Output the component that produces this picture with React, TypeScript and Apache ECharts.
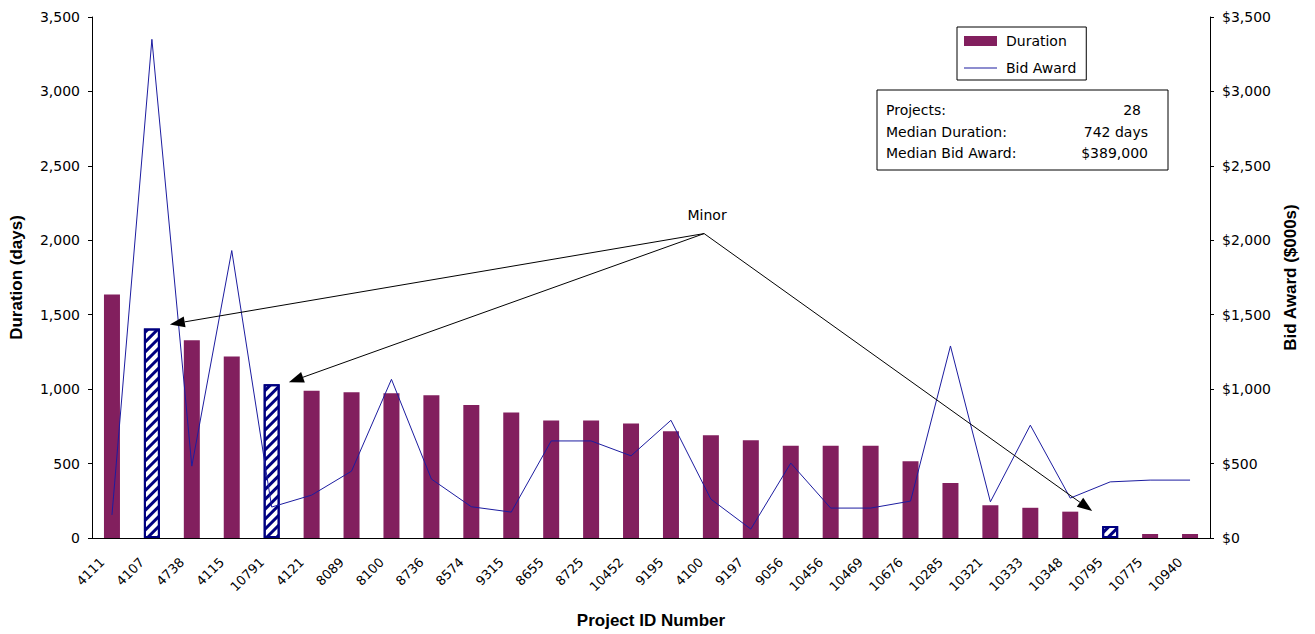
import React, { useEffect, useRef } from "react";
import * as echarts from "echarts";

const categories = ["4111","4107","4738","4115","10791","4121","8089","8100","8736","8574","9315","8655","8725","10452","9195","4100","9197","9056","10456","10469","10676","10285","10321","10333","10348","10795","10775","10940"];
const durationDays = [1636,1408,1328,1220,1033,989,979,972,959,894,843,789,789,769,717,691,657,619,619,619,515,370,220,203,177,80,27,27];
const bidAwardK = [155,3350,483,1931,208,288,449,1066,396,210,174,652,652,552,791,261,60,503,201,201,248,1290,243,758,268,377,389,389];
const minorProjects = ["4107","10791","10795"];
const statLabels = ["Projects:", "Median Duration:", "Median Bid Award:"];
const statValues = ["28", "742 days", "$389,000"];
const annotationText = "Minor";
// annotation origin (category position, duration value) and arrow targets
const annotationOrigin = [14.83, 2045];
const arrowTargets = [[1.45, 1435], [4.43, 1046], [24.55, 181]];

const FONT = "'DejaVu Sans', sans-serif";
const BOLD_FONT = "'Liberation Sans', Arial, sans-serif";
const BAR_COLOR = "#821F5E";
const LINE_COLOR = "#1C1CA0";
const HATCH_COLOR = "#000080";

export default function App() {
  const ref = useRef<HTMLDivElement>(null);
  useEffect(() => {
    document.body.style.margin = "0";
    const chart = echarts.init(ref.current!, null, { renderer: "svg" });
    const barData = durationDays.map((v, i) =>
      minorProjects.includes(categories[i])
        ? {
            value: v,
            itemStyle: {
              color: "#ffffff",
              borderColor: HATCH_COLOR,
              borderWidth: 2,
              decal: {
                symbol: "rect",
                symbolSize: 1,
                color: HATCH_COLOR,
                dashArrayX: [1, 0],
                dashArrayY: [2.5, 3.5],
                rotation: -Math.PI / 4,
              },
            },
          }
        : v
    );
    const nameStyle = { fontSize: 17, fontWeight: "bold", color: "#000", fontFamily: BOLD_FONT };
    chart.setOption({
      animation: false,
      textStyle: { fontFamily: FONT },
      grid: { left: 92, right: 105, top: 17, bottom: 95, containLabel: false },
      legend: {
        left: 957,
        top: 27,
        orient: "vertical",
        borderColor: "#000",
        borderWidth: 1,
        padding: [7, 10, 5, 7],
        itemGap: 13,
        itemWidth: 33,
        itemHeight: 10,
        textStyle: { fontSize: 14, color: "#000", fontFamily: FONT, padding: [0, 0, 0, 4] },
        data: [
          { name: "Duration", icon: "rect" },
          { name: "Bid Award", icon: "path://M0,0L33,0L33,1.2L0,1.2Z" },
        ],
      },
      xAxis: {
        type: "category",
        data: categories,
        axisLine: { lineStyle: { color: "#000" } },
        axisTick: { lineStyle: { color: "#000" }, length: 5 },
        axisLabel: {
          rotate: 45,
          interval: 0,
          fontSize: 13,
          color: "#000",
          fontFamily: FONT,
          margin: 12,
          padding: [0, 14, 0, 0],
        },
        name: "Project ID Number",
        nameLocation: "middle",
        nameGap: 74,
        nameTextStyle: nameStyle,
      },
      yAxis: [
        {
          type: "value",
          min: 0,
          max: 3500,
          interval: 500,
          splitLine: { show: false },
          axisLine: { show: true, lineStyle: { color: "#000" } },
          axisTick: { show: true, length: 4, lineStyle: { color: "#000" } },
          axisLabel: {
            fontSize: 14,
            color: "#000",
            fontFamily: FONT,
            margin: 12,
            formatter: (v: number) => v.toLocaleString("en-US"),
          },
          name: "Duration (days)",
          nameLocation: "middle",
          nameRotate: 90,
          nameGap: 67,
          nameTextStyle: nameStyle,
        },
        {
          type: "value",
          min: 0,
          max: 3500,
          interval: 500,
          position: "right",
          splitLine: { show: false },
          axisLine: { show: true, lineStyle: { color: "#000" } },
          axisTick: { show: true, length: 4, lineStyle: { color: "#000" } },
          axisLabel: {
            fontSize: 14,
            color: "#000",
            fontFamily: FONT,
            margin: 12,
            formatter: (v: number) => "$" + v.toLocaleString("en-US"),
          },
          name: "Bid Award ($000s)",
          nameLocation: "middle",
          nameRotate: 90,
          nameGap: 72,
          nameTextStyle: nameStyle,
        },
      ],
      series: [
        {
          name: "Duration",
          type: "bar",
          data: barData,
          barWidth: 16,
          itemStyle: { color: BAR_COLOR },
          yAxisIndex: 0,
        },
        {
          name: "Bid Award",
          type: "line",
          data: bidAwardK,
          yAxisIndex: 1,
          symbol: "none",
          showSymbol: false,
          lineStyle: { color: LINE_COLOR, width: 1 },
          itemStyle: { color: LINE_COLOR },
          z: 5,
        },
      ],
    });

    const toPx = (pos: number[]) => {
      const i0 = Math.floor(pos[0]);
      const f = pos[0] - i0;
      const a = chart.convertToPixel({ xAxisIndex: 0, yAxisIndex: 0 }, [i0, pos[1]]) as number[];
      const b = chart.convertToPixel({ xAxisIndex: 0, yAxisIndex: 0 }, [i0 + 1, pos[1]]) as number[];
      return [a[0] + (b[0] - a[0]) * f, a[1]];
    };
    const o = toPx(annotationOrigin);
    const graphics: any[] = [];
    arrowTargets.forEach((t) => {
      const p = toPx(t);
      const dx = p[0] - o[0];
      const dy = p[1] - o[1];
      const len = Math.sqrt(dx * dx + dy * dy);
      const ux = dx / len;
      const uy = dy / len;
      const L = 15;
      const W = 5.5;
      const bx = p[0] - ux * L;
      const by = p[1] - uy * L;
      graphics.push({
        type: "line",
        shape: { x1: o[0], y1: o[1], x2: bx, y2: by },
        style: { stroke: "#000", lineWidth: 1 },
        z: 10,
      });
      graphics.push({
        type: "polygon",
        shape: {
          points: [
            [p[0], p[1]],
            [bx - uy * W, by + ux * W],
            [bx + uy * W, by - ux * W],
          ],
        },
        style: { fill: "#000" },
        z: 10,
      });
    });
    graphics.push({
      type: "text",
      x: o[0] + 3,
      y: o[1] - 12,
      style: { text: annotationText, fontSize: 14, fill: "#000", fontFamily: FONT, align: "center", verticalAlign: "bottom" },
      z: 10,
    });
    graphics.push({
      type: "rect",
      shape: { x: 877, y: 90, width: 291, height: 80 },
      style: { fill: "#fff", stroke: "#000", lineWidth: 1 },
      z: 10,
    });
    statLabels.forEach((s, k) => {
      graphics.push({
        type: "text",
        x: 886,
        y: 110 + k * 21.5,
        style: { text: s, fontSize: 14, fill: "#000", fontFamily: FONT, verticalAlign: "middle" },
        z: 11,
      });
    });
    statValues.forEach((s, k) => {
      graphics.push({
        type: "text",
        x: k === 0 ? 1141 : 1148,
        y: 110 + k * 21.5,
        style: { text: s, fontSize: 14, fill: "#000", fontFamily: FONT, align: "right", verticalAlign: "middle" },
        z: 11,
      });
    });
    chart.setOption({ graphic: graphics });

    return () => chart.dispose();
  }, []);
  return <div ref={ref} style={{ width: 1315, height: 634 }} />;
}
